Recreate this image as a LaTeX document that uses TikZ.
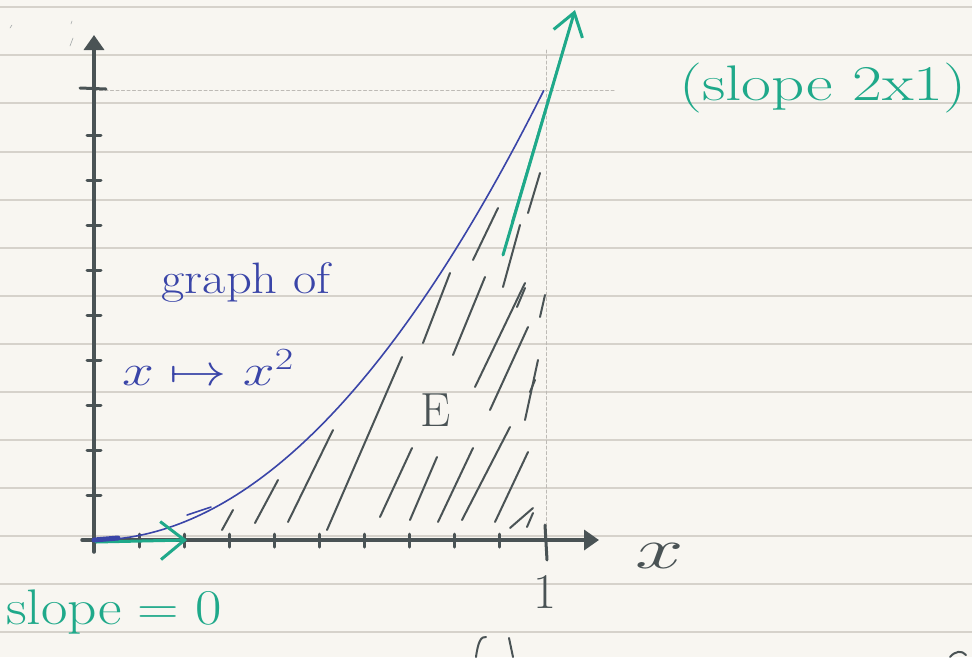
\RequirePackage{fix-cm}
\documentclass[tikz,border=0pt]{standalone}
\usetikzlibrary{arrows.meta}

\definecolor{paper}{HTML}{F8F6F1}
\definecolor{ruleline}{HTML}{D6D2CB}
\definecolor{guideline}{HTML}{BDBAB5}
\definecolor{ink}{HTML}{4A5355}
\definecolor{blueink}{HTML}{3A45A8}
\definecolor{greenink}{HTML}{1FA98A}

\begin{document}
\begin{tikzpicture}[x=1pt,y=-1pt,line cap=round,line join=round,
  rule/.style={draw=ruleline,line width=2pt},
  axis/.style={draw=ink,line width=3.5pt},
  tickmark/.style={draw=ink,line width=3pt},
  guide/.style={draw=guideline,line width=1pt,dash pattern=on 3pt off 2.5pt},
  hatch/.style={draw=ink,line width=2pt},
  tangent/.style={draw=greenink,line width=3pt},
  curve/.style={draw=blueink,line width=1.6pt},
  bluetext/.style={text=blueink,font=\fontsize{44}{48}\selectfont},
  greentext/.style={text=greenink,font=\fontsize{50}{54}\selectfont},
  inktext/.style={text=ink,font=\fontsize{46}{50}\selectfont}]

% Lined paper.
\fill[paper] (0,0) rectangle (972,657);
\useasboundingbox (0,0) rectangle (972,657);
\foreach \k in {0,...,13}
  \draw[rule] (0,{7.3+48.08*\k}) -- (972,{7.3+48.08*\k});
\draw[ink!50,line width=.6pt] (10,28) -- (12,25);
\draw[ink!50,line width=.6pt] (70,46) -- (73,38);
\draw[ink!50,line width=.6pt] (71,24) -- (72,21);

% Axes, ticks and the guide lines to (1,1).
\coordinate (O) at (94,540);
\coordinate (xstart) at (82,540);
\coordinate (xtip) at (599,540);
\coordinate (ystart) at (94,552);
\coordinate (ytip) at (94,35);
\coordinate (P) at (546,90);
\coordinate (Px) at (546,540);
\coordinate (Py) at (94,90);
\draw[guide] (546,50) -- (Px) -- (546,548);
\draw[guide] (Py) -- (615,90);
\draw[axis,-{Triangle[length=15pt,width=20pt]}] (xstart) -- (xtip);
\draw[axis,-{Triangle[length=15pt,width=20pt]}] (ystart) -- (ytip);
\foreach \k in {1,...,9}
{
  \draw[tickmark] ({94+45*\k},534) -- ({94+45*\k},547);
  \draw[tickmark] (87,{540-45*\k}) -- (101,{540-45*\k});
}
\draw[tickmark] (80,88) -- (106,89);
\draw[tickmark] (545,525) -- (547,560);

% The parabola and the region E under it.
\draw[curve] plot[domain=0:1,samples=80] ({94+450*\x},{540-450*\x*\x});
\draw[blueink,line width=1.6pt] (187,515) -- (211,507);
\foreach \a/\b/\c/\d in {222/530/233/510, 255/523/278/480, 288/522/333/430,
  327/530/402/357, 380/517/412/448, 410/520/437/457, 438/522/473/448,
  462/520/510/427, 495/522/528/452, 510/528/533/508, 527/527/533/513,
  423/343/450/273, 453/355/485/277, 475/387/525/283, 490/410/528/327,
  525/420/538/360, 540/317/545/295, 503/287/520/225, 528/213/540/173,
  473/260/498/208, 517/307/525/288, 530/392/535/380}
  \draw[hatch] (\a,\b) -- (\c,\d);

% Tangents at 0 and at 1.
\coordinate (t0) at (96,542);
\coordinate (t0tip) at (187,540);
\coordinate (t1) at (503,255);
\coordinate (t1tip) at (575,10);
\draw[tangent,-{Straight Barb[length=24pt,width=38pt]}] (t0) -- (t0tip);
\draw[tangent,-{Straight Barb[length=22pt,width=30pt]}] (t1) -- (t1tip);
\draw[greenink,line width=2pt] (512,222) -- (566,40);
\draw[blueink,line width=5pt] (O) -- (118,538);

% Labels.
\node[bluetext] (graphof) at (246,283) {\scalebox{1.15}[1]{graph of}};
\node[bluetext] (map) at (208,368) {\scalebox{1.3}[1]{$x\mapsto x^2$}};
\node[greentext] (slopeone) at (823,88) {\scalebox{1.3}[1]{(slope 2x1)}};
\node[greentext] (slopezero) at (114,612) {\scalebox{1.15}[1]{slope${}={}$0}};
\node[inktext,font=\fontsize{58}{62}\selectfont] (xlabel) at (660,556)
  {\scalebox{1.5}[1]{$x$}};
\node[inktext,font=\fontsize{50}{54}\selectfont] (one) at (545,592) {1};
\node[inktext,font=\fontsize{48}{52}\selectfont] (E) at (436,410) {E};

% Strokes cut off by the page edge.
\draw[hatch] (476,657) .. controls (478,642) and (481,636) .. (486,637);
\draw[hatch] (509,638) -- (513,657);
\draw[hatch] (950,657) .. controls (955,651) and (962,650) .. (966,655);
\end{tikzpicture}
\end{document}
